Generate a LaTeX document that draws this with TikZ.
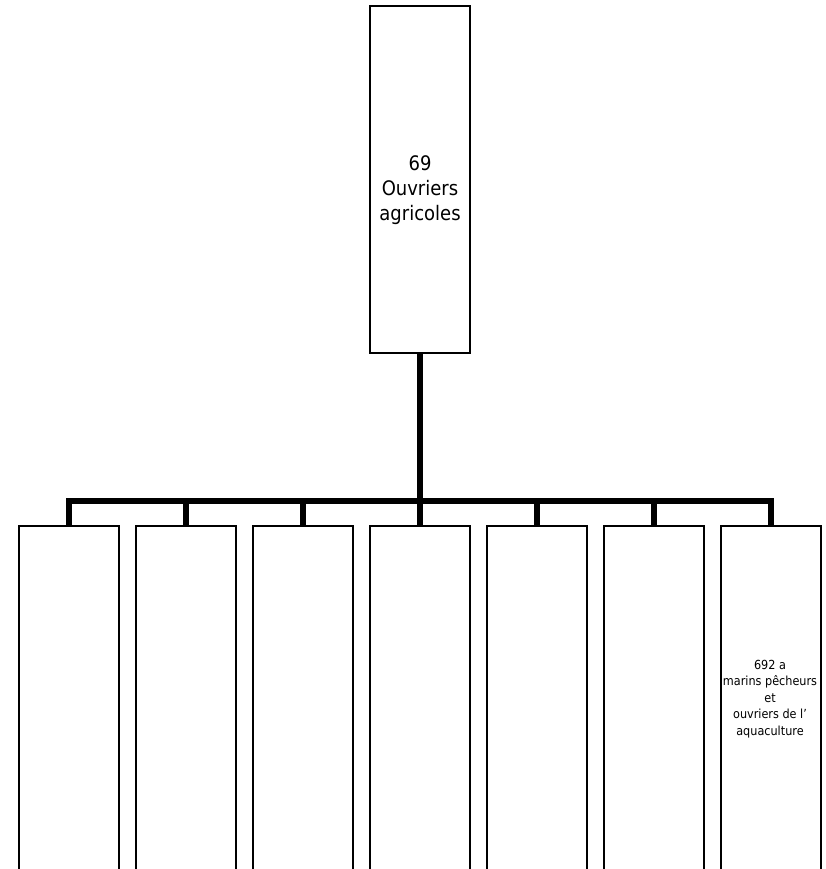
\documentclass[tikz,border=0pt]{standalone}
\usepackage{fontspec}
\setmainfont{DejaVu Sans}[FakeStretch=0.9]
\begin{document}
\begin{tikzpicture}[x=1pt,y=1pt,
  box/.style={draw, line width=1.8pt, minimum width=100pt, inner sep=0pt},
  conn/.style={line width=6pt}]

% frame of the page
\path[use as bounding box, clip] (0,0) rectangle (825,-869);

% top box
\node[box, minimum height=347pt] (top) at (420,-179.5) {};
\node[align=center, font=\fontsize{20}{25}\selectfont] (toptext) at (420,-190.5) {69\\Ouvriers\\agricoles};

% sub boxes
\foreach \i in {0,...,6}
  \node[box, minimum height=380pt, anchor=north] (c\i) at (69+117*\i,-525) {};
\node[align=center, font=\fontsize{12.5}{16.5}\selectfont] (c6text) at (770,-699) {692 a\\marins pêcheurs\\et\\ouvriers de l’\\aquaculture};

% connectors
\coordinate (bar) at (420,-501);
\draw[conn] (top.south) -- (bar);
\foreach \i in {0,...,6}
  \draw[conn] (c\i.north) |- (bar);

\end{tikzpicture}
\end{document}
